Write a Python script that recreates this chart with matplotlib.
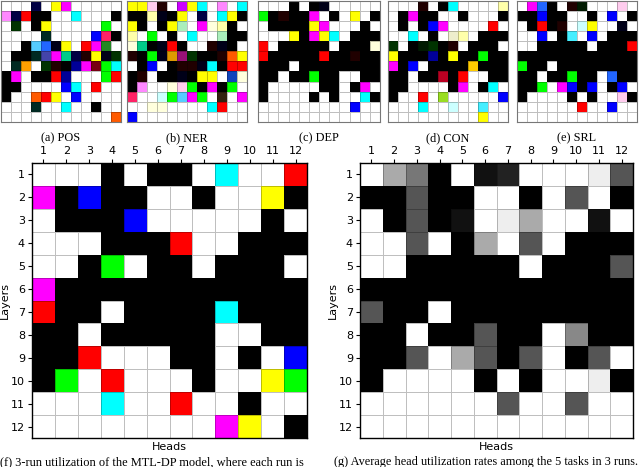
import numpy as np
import matplotlib
matplotlib.use('Agg')
import matplotlib.pyplot as plt
from matplotlib.colors import ListedColormap, to_rgb

# Colour codes used in the task grids
palette = {
    'w': '#ffffff', 'k': '#000000', 'r': '#ff0000', 'g': '#00ff00',
    'b': '#0000ff', 'c': '#00ffff', 'm': '#ff00ff', 'y': '#ffff00',
    'n': '#000044', 'N': '#000018', 'd': '#003300', 'F': '#001a00',
    't': '#002a22', 'M': '#200000', 'o': '#ffa000', 'O': '#ff5a00',
    'p': '#ff88ff', 'P': '#ffccee', 'l': '#ffffaa', 'L': '#ffffdd',
    'C': '#ccffff', 'e': '#55ccff', 'i': '#44eeff', 'B': '#2266ff',
    'G': '#228822', 'T': '#00cc88', 'R': '#ff2266', 'v': '#cc00ff',
    's': '#4444aa', 'u': '#991177', 'A': '#dd9900', 'x': '#770011',
    'q': '#aaeebb', 'h': '#99dd22', 'j': '#000099', 'z': '#332211',
    'D': '#bb0022', 'E': '#eeeecc', 'S': '#1144bb', 'Y': '#ffcc00',
}

pos_grid = [
    "wwwnwymwwwww", "pnrkkwwcwwwk", "wdwkywwwwwgw", "wwwwtwwwwbRk",
    "wwkeBNywrmGw", "wkktsmTnMyNd", "wtowdMkjmxgc", "kmwkkrjwwwgr",
    "kkwwwwbcwrww", "kwwOrywbwwww", "wwwtwwcwwkww", "wwwwwwwwwwwO",
]
ner_grid = [
    "yyPMwvycwpwc", "kklNkywnwcyk", "ykwkyqwmLlkw", "lwgwkwcwwqkk",
    "LTkNrkwwMNkw", "MkgNAudkkMOy", "wkbwkMMNckrr", "kMwkkNkyywSL",
    "kpwwLPgkmkgw", "RwwCgemgwzwm", "wwLLwwwwcrww", "bwwwwwwwwwww",
]
dep_grid = [
    "wwwkwkNwwwww", "gkMkkmwkwywk", "wkkkkymwwwkw", "wwwykmycwkkk",
    "rwkkkkkwkkkL", "rkkkkkrkkMkk", "kkkwkkkkkkkk", "kkwkkgkkwwkk",
    "kwwwwwkkwkmw", "kwwwwkwkwwck", "wwwwwwwwwbww", "wwwwwwwwwwww",
]
con_grid = [
    "wwwMwkcwwwwl", "wkmkkwwkwwwk", "wkwkbmwwwwrw", "wwcwkwElwkkk",
    "dwkFdkMwkkkw", "ykkkjkykkgkk", "mkbwkkkkYkkk", "kkwkkDkrwwkk",
    "kkwwwwkmwkcw", "kwwrwhwwwwwb", "wwwcwwCwwiww", "wwwwwwwwwyww",
]
srl_grid = [
    "wmBkwMFwwwPw", "kkbkkwwkwbwk", "wkrkMwCywwNw", "wwbwkiwbwkkk",
    "wwkkkkkwkkkr", "kkkkkkkkkkkk", "gkkwkkkkkkkk", "kkwkkgkkwBkk",
    "kkgwmbkbwkbw", "kwwwwkwkwwPk", "wwwwwwrwwbww", "wwwwwwwwwwww",
]
mtl_grid = [
    "wwwkwkkwcwwr", "mkbkkwwkwwyk", "wkkkbwwwwwkw", "wwwkkkrwwkkk",
    "wwkgwkkwkkkw", "mkkkkkkkkkkk", "rkkwkkkkckkk", "kkwkkkkkwwkk",
    "kkrwwwkkwkwb", "kgwrwwwkwwyg", "wwwcwwrwwkww", "wwwwwwwwmywk",
]

# Average utilisation over 5 tasks x 3 runs, in fifteenths
avg_fifteenths = [
    [0, 5, 8, 15, 0, 14, 13, 0, 0, 0, 1, 10],
    [15, 15, 10, 15, 15, 0, 0, 15, 0, 10, 0, 15],
    [0, 15, 10, 15, 14, 0, 1, 5, 0, 0, 14, 0],
    [0, 0, 10, 0, 15, 5, 0, 10, 0, 15, 15, 15],
    [0, 0, 15, 15, 15, 15, 15, 0, 15, 15, 15, 10],
    [15, 15, 15, 15, 15, 15, 15, 15, 15, 15, 15, 15],
    [10, 15, 15, 0, 15, 15, 15, 15, 15, 15, 15, 15],
    [15, 15, 0, 15, 15, 10, 15, 15, 0, 7, 15, 15],
    [15, 15, 10, 0, 5, 10, 15, 10, 0, 15, 10, 0],
    [15, 0, 0, 0, 0, 15, 0, 15, 0, 0, 1, 15],
    [0, 0, 0, 0, 0, 0, 10, 0, 0, 10, 0, 0],
    [0, 0, 0, 0, 0, 0, 0, 0, 0, 0, 0, 0],
]

task_captions = ['(a) POS', '(b) NER', '(c) DEP', '(d) CON', '(e) SRL']
heads = list(range(1, 13))
layers = list(range(1, 13))

W, H = 640, 467
codes = list(palette.keys())
code_cmap = ListedColormap([to_rgb(palette[c]) for c in codes])
edge = (0, 0, 0, 0.25)
serif = ['Liberation Serif', 'DejaVu Serif']


def rect(x0, y0, x1, y1):
    """Pixel box (top-left origin) -> figure fraction"""
    return [x0 / W, 1 - y1 / H, (x1 - x0) / W, (y1 - y0) / H]


def draw_codes(ax, grid):
    idx = np.array([[codes.index(ch) for ch in row] for row in grid])
    ax.pcolormesh(idx, cmap=code_cmap, vmin=-0.5, vmax=len(codes) - 0.5,
                  edgecolors=edge, linewidth=0.6)
    ax.set_xlim(0, 12)
    ax.set_ylim(12, 0)


def style_big(ax):
    ax.xaxis.tick_top()
    ax.set_xticks(np.arange(12) + 0.5)
    ax.set_xticklabels(heads)
    ax.set_yticks(np.arange(12) + 0.5)
    ax.set_yticklabels(layers)
    ax.tick_params(labelsize=8, length=3, width=0.8, pad=2)
    ax.set_xlabel('Heads', fontsize=8, labelpad=3)
    ax.set_ylabel('Layers', fontsize=8, labelpad=1)
    for s in ax.spines.values():
        s.set_linewidth(1.0)


fig = plt.figure(figsize=(W / 100, H / 100), dpi=100)

# Top row: one small grid per task
small_boxes = [(1, 121), (127, 247), (258, 380), (388, 508), (517, 637)]
for (x0, x1), grid, cap in zip(small_boxes,
                               [pos_grid, ner_grid, dep_grid, con_grid, srl_grid],
                               task_captions):
    ax = fig.add_axes(rect(x0, 0.5, x1, 122))
    draw_codes(ax, grid)
    ax.set_xticks([])
    ax.set_yticks([])
    for s in ax.spines.values():
        s.set_color('#777777')
        s.set_linewidth(0.8)
    fig.text((x0 + x1) / 2 / W, 1 - 141 / H, cap, ha='center', va='baseline',
             fontsize=8.8, family=serif)

# (f) 3-run utilisation of MTL-DP
ax_f = fig.add_axes(rect(32, 163, 307, 438))
draw_codes(ax_f, mtl_grid)
style_big(ax_f)

# (g) average utilisation in grey levels
ax_g = fig.add_axes(rect(360, 163, 633, 438))
ax_g.pcolormesh(np.array(avg_fifteenths) / 15.0, cmap='gray_r', vmin=0, vmax=1,
                edgecolors=edge, linewidth=0.6)
ax_g.set_xlim(0, 12)
ax_g.set_ylim(12, 0)
style_big(ax_g)

fig.text(0 / W, 1 - 465.5 / H,
         '(f) 3-run utilization of the MTL-DP model, where each run is',
         ha='left', va='baseline', fontsize=8.9, family=serif)
fig.text(334 / W, 1 - 465.5 / H,
         '(g) Average head utilization rates among the 5 tasks in 3 runs.',
         ha='left', va='baseline', fontsize=8.8, family=serif)

fig.savefig('out.png', dpi=100)
